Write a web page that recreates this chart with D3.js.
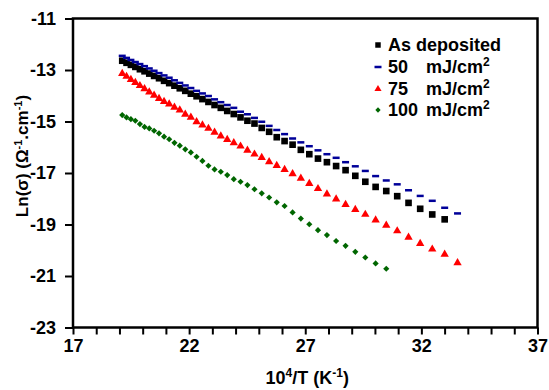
<!DOCTYPE html>
<html>
<head>
<meta charset="utf-8">
<script src="https://cdn.jsdelivr.net/npm/d3@7"></script>
<style>
  body { margin: 0; background: #ffffff; }
  svg { font-family: "Liberation Sans", Arial, sans-serif; font-weight: bold; }
</style>
</head>
<body>
<div class="chart"></div>
<script>
// 10^4/T values (K^-1)
const invT = [19.120, 19.305, 19.493, 19.685, 19.881, 20.080, 20.284, 20.492, 20.704, 20.921,
              21.142, 21.368, 21.598, 21.834, 22.075, 22.321, 22.573, 22.831, 23.095, 23.364,
              23.641, 23.923, 24.213, 24.510, 24.814, 25.126, 25.445, 25.773, 26.110, 26.455,
              26.810, 27.174, 27.548, 27.933, 28.329, 28.736, 29.155, 29.586, 30.030, 30.488,
              30.960, 31.447, 31.949, 32.468, 33.003, 33.557];

const asDeposited = [-12.64, -12.72, -12.80, -12.88, -12.97, -13.05, -13.14, -13.23, -13.32, -13.42,
                     -13.51, -13.61, -13.71, -13.81, -13.92, -14.02, -14.13, -14.24, -14.36, -14.47,
                     -14.59, -14.71, -14.84, -14.97, -15.08, -15.25, -15.40, -15.61, -15.76, -15.90,
                     -16.10, -16.27, -16.44, -16.58, -16.73, -16.89, -17.11, -17.34, -17.54, -17.70,
                     -17.90, -18.16, -18.39, -18.61, -18.80];

const mj50 = [-12.45, -12.53, -12.61, -12.69, -12.77, -12.85, -12.94, -13.03, -13.12, -13.21,
              -13.30, -13.40, -13.50, -13.60, -13.70, -13.81, -13.91, -14.01, -14.14, -14.25,
              -14.36, -14.47, -14.62, -14.72, -14.86, -15.01, -15.17, -15.33, -15.49, -15.66,
              -15.81, -15.96, -16.12, -16.27, -16.41, -16.58, -16.74, -16.92, -17.12, -17.29,
              -17.44, -17.67, -17.89, -18.08, -18.35, -18.57];

const mj75 = [-13.14, -13.25, -13.37, -13.49, -13.61, -13.73, -13.86, -13.98, -14.11, -14.23,
              -14.32, -14.45, -14.56, -14.72, -14.84, -15.01, -15.14, -15.27, -15.42, -15.57,
              -15.70, -15.83, -15.96, -16.12, -16.27, -16.40, -16.57, -16.71, -16.87, -17.03,
              -17.21, -17.41, -17.61, -17.82, -18.01, -18.23, -18.42, -18.61, -18.83, -19.03,
              -19.25, -19.50, -19.74, -19.96, -20.16, -20.49];

const mj100 = [-14.75, -14.84, -14.91, -14.97, -15.10, -15.21, -15.27, -15.36, -15.46, -15.59,
               -15.69, -15.83, -15.94, -16.08, -16.20, -16.37, -16.53, -16.72, -16.86, -16.95,
               -17.08, -17.24, -17.34, -17.47, -17.63, -17.79, -17.95, -18.14, -18.28, -18.53,
               -18.77, -18.99, -19.22, -19.41, -19.64, -19.83, -20.06, -20.28, -20.51, -20.72];

const xTicks = [17, 22, 27, 32, 37];
const xMinorTicks = d3.range(17, 38, 1);
const yTicks = [-23, -21, -19, -17, -15, -13, -11];
const legendLabels = ["As deposited", "50", "75", "100"];

const width = 549;
const height = 390;
const margin = {top: 18.5, right: 11.5, bottom: 62.5, left: 73};

const svg = d3.select(".chart")
              .append("svg")
              .attr("width", width)
              .attr("height", height)
              .style("background-color", "#ffffff");

const xScale = d3.scaleLinear()
                 .domain([17, 37])
                 .range([margin.left, width - margin.right]);
const yScale = d3.scaleLinear()
                 .domain([-23, -11])
                 .range([height - margin.bottom, margin.top]);

//Axes
const xAxis = d3.axisBottom(xScale)
                .tickValues(xMinorTicks)
                .tickSize(7)
                .tickPadding(5)
                .tickFormat(d => xTicks.includes(d) ? d : "");
const yAxis = d3.axisLeft(yScale)
                .tickValues(yTicks)
                .tickSize(8)
                .tickPadding(9)
                .tickFormat(d => d);

const gx = svg.append("g")
              .attr("transform", "translate(0," + (height - margin.bottom) + ")")
              .call(xAxis);
const gy = svg.append("g")
              .attr("transform", "translate(" + margin.left + ",0)")
              .call(yAxis);

[gx, gy].forEach(g => {
  g.select(".domain").remove();
  g.selectAll(".tick line").attr("stroke", "#000").attr("stroke-width", 2);
  g.selectAll(".tick text")
   .attr("fill", "#000")
   .style("font-size", "18px")
   .style("font-weight", "bold")
   .style("font-family", "'Liberation Sans', Arial, sans-serif");
});

//Frame
svg.append("rect")
   .attr("x", margin.left)
   .attr("y", margin.top)
   .attr("width", width - margin.left - margin.right)
   .attr("height", height - margin.top - margin.bottom)
   .attr("fill", "none")
   .attr("stroke", "#000")
   .attr("stroke-width", 2.5);

//Axis titles
const xTitle = svg.append("text")
                  .attr("x", (margin.left + width - margin.right) / 2 + 2)
                  .attr("y", height - 6)
                  .attr("text-anchor", "middle")
                  .style("font-size", "18px");
xTitle.append("tspan").text("10");
xTitle.append("tspan").attr("dy", -7).style("font-size", "12px").text("4");
xTitle.append("tspan").attr("dy", 7).text("/T (K");
xTitle.append("tspan").attr("dy", -7).style("font-size", "12px").text("-1");
xTitle.append("tspan").attr("dy", 7).text(")");

const yTitle = svg.append("text")
                  .attr("transform", "translate(28," + 156 + ") rotate(-90)")
                  .attr("text-anchor", "middle")
                  .style("font-size", "17px");
yTitle.append("tspan").text("Ln(σ) (Ω");
yTitle.append("tspan").attr("dy", -6).style("font-size", "11px").text("-1");
yTitle.append("tspan").attr("dy", 6).text(".cm");
yTitle.append("tspan").attr("dy", -6).style("font-size", "11px").text("-1");
yTitle.append("tspan").attr("dy", 6).text(")");

//Markers
const squarePath = d3.symbol().type(d3.symbolSquare).size(44)();
const trianglePath = d3.symbol().type(d3.symbolTriangle).size(30)();
const diamondPath = d3.symbol().type(d3.symbolSquare).size(19)();

svg.append("g")
   .selectAll("path")
   .data(asDeposited)
   .enter()
   .append("path")
   .attr("d", squarePath)
   .attr("fill", "#000")
   .attr("transform", (d, i) => "translate(" + xScale(invT[i]) + "," + yScale(d) + ")");

svg.append("g")
   .selectAll("rect")
   .data(mj50)
   .enter()
   .append("rect")
   .attr("x", (d, i) => xScale(invT[i]) - 3.5)
   .attr("y", d => yScale(d) - 1.25)
   .attr("width", 7)
   .attr("height", 2.5)
   .attr("fill", "#000099");

svg.append("g")
   .selectAll("path")
   .data(mj75)
   .enter()
   .append("path")
   .attr("d", trianglePath)
   .attr("fill", "#ff0000")
   .attr("transform", (d, i) => "translate(" + xScale(invT[i]) + "," + yScale(d) + ")");

svg.append("g")
   .selectAll("path")
   .data(mj100)
   .enter()
   .append("path")
   .attr("d", diamondPath)
   .attr("fill", "#006600")
   .attr("transform", (d, i) => "translate(" + xScale(invT[i]) + "," + yScale(d) + ") rotate(45)");

//Legend
const legendX = 378;
const legendY = [45, 67, 89, 110];
const legend = svg.append("g");
legend.append("path")
      .attr("d", d3.symbol().type(d3.symbolSquare).size(30)())
      .attr("fill", "#000")
      .attr("transform", "translate(" + legendX + "," + legendY[0] + ")");
legend.append("rect")
      .attr("x", legendX - 3.5)
      .attr("y", legendY[1] - 1.25)
      .attr("width", 7)
      .attr("height", 2.5)
      .attr("fill", "#000099");
legend.append("path")
      .attr("d", d3.symbol().type(d3.symbolTriangle).size(22)())
      .attr("fill", "#ff0000")
      .attr("transform", "translate(" + legendX + "," + legendY[2] + ")");
legend.append("path")
      .attr("d", d3.symbol().type(d3.symbolSquare).size(14)())
      .attr("fill", "#006600")
      .attr("transform", "translate(" + legendX + "," + legendY[3] + ") rotate(45)");

legendLabels.forEach((label, i) => {
  const t = legend.append("text")
                  .attr("x", legendX + 10)
                  .attr("y", legendY[i] + 6)
                  .style("font-size", "18px");
  t.append("tspan").text(label);
  if (i > 0) {
    t.append("tspan").attr("x", 426).text("mJ/cm");
    t.append("tspan").attr("dy", -7).style("font-size", "12px").text("2");
  }
});
</script>
</body>
</html>
